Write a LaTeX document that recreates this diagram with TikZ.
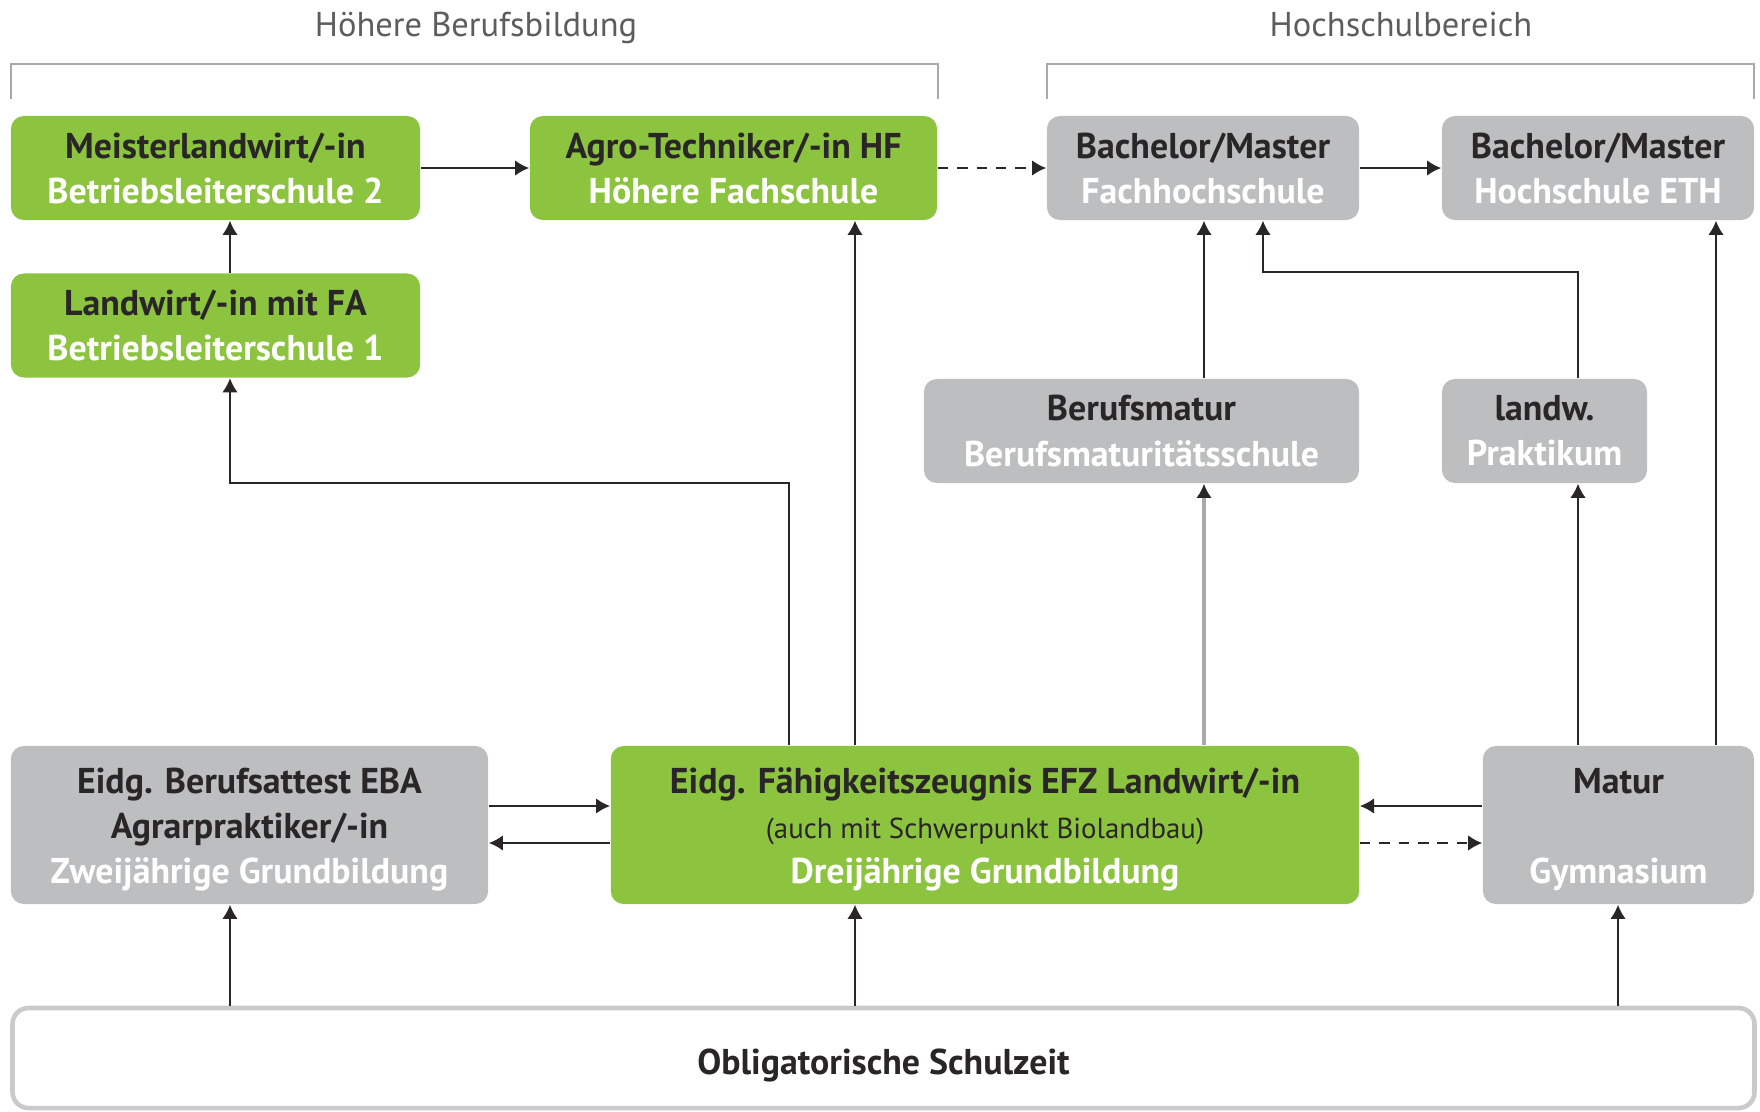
\documentclass[tikz,border=0pt]{standalone}
\usepackage{fontspec}
\setmainfont{PT Sans}
\usepackage{tikz}
\usetikzlibrary{arrows.meta}
\usetikzlibrary{positioning}
\definecolor{mgreen}{HTML}{8CC43F}
\definecolor{mgray}{HTML}{BCBEC0}
\definecolor{mdark}{HTML}{2A2627}
\definecolor{mline}{HTML}{A7A9AC}
\definecolor{mframe}{HTML}{C9CACC}

\begin{document}
\begin{tikzpicture}[x=0.01cm, y=-0.01cm,
    box/.style={rounded corners=0.13cm, inner sep=0, align=center, text=mdark, font=\fontsize{10.2}{12.8}\selectfont\bfseries},
    greenbox/.style={box, fill=mgreen},
    graybox/.style={box, fill=mgray},
    topbox/.style={minimum height=1.04cm},
    lowbox/.style={minimum height=1.58cm},
    head/.style={text=mdark!75, font=\fontsize{9.8}{12}\selectfont, text height=8.6pt, text depth=2.4pt},
    link/.style={mdark, line width=0.55pt, -{Latex[length=4pt, width=4.4pt]}},
    dlink/.style={link, dash pattern=on 3pt off 2.5pt}]
    \useasboundingbox (0,0) rectangle (1760,1111);

    \node [head] (hbb) at (476,26) {Höhere Berufsbildung};
    \node [head] (hsb) at (1401,26) {Hochschulbereich};
    \draw [mline, line width=0.8pt] (11,99) |- (938,64) -- (938,99);
    \draw [mline, line width=0.8pt] (1047,99) |- (1754,64) -- (1754,99);

    \node [greenbox, topbox, minimum width=4.09cm] (meister) at (215.5,168) {Meisterlandwirt/-in\\\color{white}Betriebsleiterschule 2};
    \node [greenbox, topbox, minimum width=4.07cm] (agro) at (733.5,168) {Agro-Techniker/-in HF\\\color{white}Höhere Fachschule};
    \node [graybox, topbox, minimum width=3.12cm] (bachfh) at (1203,168) {Bachelor/Master\\\color{white}Fachhochschule};
    \node [graybox, topbox, minimum width=3.12cm] (bacheth) at (1598,168) {Bachelor/Master\\\color{white}Hochschule ETH};
    \node [greenbox, topbox, minimum width=4.09cm] (fa) at (215.5,325.5) {Landwirt/-in mit FA\\\color{white}Betriebsleiterschule 1};
    \node [graybox, topbox, minimum width=4.35cm] (bms) at (1141.5,431) {Berufsmatur\\\color{white}Berufsmaturitätsschule};
    \node [graybox, topbox, minimum width=2.05cm] (prakt) at (1544.5,431) {landw.\\\color{white}Praktikum};

    \node [graybox, lowbox, minimum width=4.77cm] (eba) at (249.5,825) {\rule{0pt}{10pt}Eidg. Berufsattest EBA\\Agrarpraktiker/-in\\\color{white}Zweijährige Grundbildung};
    \node [greenbox, lowbox, minimum width=7.48cm] (efz) at (985,825) {\rule{0pt}{10pt}Eidg. Fähigkeitszeugnis EFZ Landwirt/-in\\{\fontsize{8.2}{12.8}\selectfont\mdseries(auch mit Schwerpunkt Biolandbau)}\\\color{white}Dreijährige Grundbildung};
    \node [graybox, lowbox, minimum width=2.71cm] (matur) at (1618.5,825) {\rule{0pt}{10pt}Matur\\\mbox{}\\\color{white}Gymnasium};

    \node [box, draw=mframe, line width=1.3pt, fill=white, rounded corners=0.16cm, minimum width=17.41cm, minimum height=1.0cm, text height=9.2pt, text depth=0pt] (oblig) at (883.5,1058) {Obligatorische Schulzeit};

    % top row
    \draw [link] (meister) -- (agro);
    \draw [dlink] (agro) -- (bachfh);
    \draw [link] (bachfh) -- (bacheth);
    \draw [link] (fa.north -| 230,0) -- (meister.south -| 230,0);
    \draw [link] (efz.north -| 789,0) |- (230,483) -- (fa.south -| 230,0);
    \draw [link] (efz.north -| 855,0) -- (agro.south -| 855,0);
    \draw [link, mline, line width=1pt, -{Latex[length=4pt, width=4.4pt, color=mdark]}] (efz.north -| 1204,0) -- (bms.south -| 1204,0);
    \draw [link] (bms.north -| 1204,0) -- (bachfh.south -| 1204,0);
    \draw [link] (prakt.north -| 1578,0) |- (1263,272) -- (bachfh.south -| 1263,0);
    \draw [link] (matur.north -| 1578,0) -- (prakt.south -| 1578,0);
    \draw [link] (matur.north -| 1716,0) -- (bacheth.south -| 1716,0);

    % bottom row
    \draw [link] (eba.east |- 0,806) -- (efz.west |- 0,806);
    \draw [link] (efz.west |- 0,843) -- (eba.east |- 0,843);
    \draw [link] (matur.west |- 0,806) -- (efz.east |- 0,806);
    \draw [dlink] (efz.east |- 0,843) -- (matur.west |- 0,843);
    \draw [link] (oblig.north -| 230,0) -- (eba.south -| 230,0);
    \draw [link] (oblig.north -| 855,0) -- (efz.south -| 855,0);
    \draw [link] (oblig.north -| 1618,0) -- (matur.south -| 1618,0);
  \end{tikzpicture}
\end{document}
